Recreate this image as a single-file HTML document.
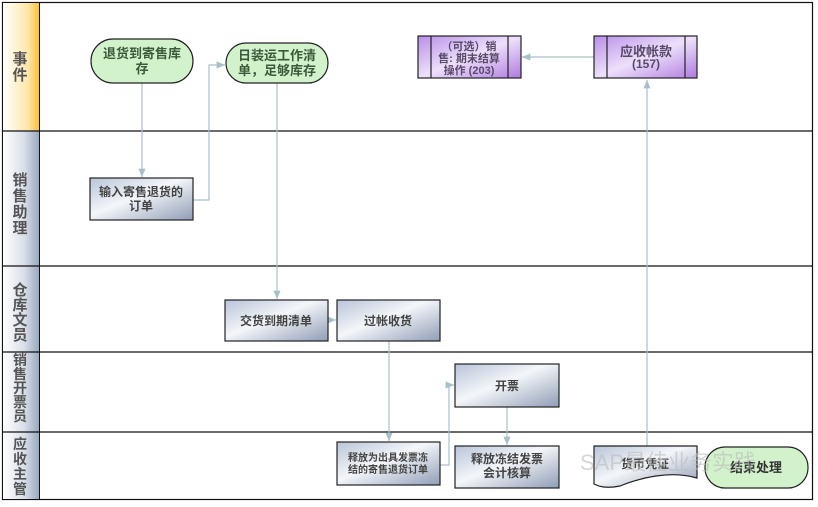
<!DOCTYPE html>
<html><head><meta charset="utf-8"><style>
body{margin:0;width:818px;height:502px;background:#fff;overflow:hidden;font-family:"Liberation Sans","Noto Sans CJK SC",sans-serif}
svg text{font-family:"Liberation Sans","Noto Sans CJK SC",sans-serif}
</style></head><body>
<svg width="818" height="502" viewBox="0 0 818 502">
<defs>
<linearGradient id="ev" x1="0" y1="0" x2="1" y2="0"><stop offset="0" stop-color="#fff"/><stop offset="0.7" stop-color="#fde6a8"/><stop offset="1" stop-color="#f8c23a"/></linearGradient>
<linearGradient id="ln" x1="0" y1="0" x2="1" y2="0"><stop offset="0" stop-color="#fff"/><stop offset="0.6" stop-color="#d8dee8"/><stop offset="1" stop-color="#9aa8c0"/></linearGradient>
<linearGradient id="bx" x1="0" y1="0" x2="1" y2="1"><stop offset="0" stop-color="#b8c4d8"/><stop offset="0.45" stop-color="#f4f6f9"/><stop offset="1" stop-color="#8f9db6"/></linearGradient>
<linearGradient id="pu" x1="0" y1="0" x2="1" y2="1"><stop offset="0" stop-color="#b88ee8"/><stop offset="0.5" stop-color="#ece0fa"/><stop offset="1" stop-color="#b07ae0"/></linearGradient>
<marker id="a" markerWidth="8" markerHeight="8" refX="7" refY="4" orient="auto"><path d="M0,1 L7,4 L0,7z" fill="#a8c0c8"/></marker>
</defs>
<rect x="2.5" y="2.5" width="810" height="497" fill="none" stroke="#111" stroke-width="1.2"/>
<rect x="3" y="3" width="36" height="128" fill="url(#ev)"/>
<rect x="3" y="131" width="36" height="135" fill="url(#ln)"/>
<rect x="3" y="266" width="36" height="86" fill="url(#ln)"/>
<rect x="3" y="352" width="36" height="80" fill="url(#ln)"/>
<rect x="3" y="432" width="36" height="67" fill="url(#ln)"/>
<line x1="39.5" y1="2" x2="39.5" y2="500" stroke="#111"/>
<g stroke="#111" stroke-width="1.2">
<line x1="2" y1="131" x2="813" y2="131"/><line x1="2" y1="266" x2="813" y2="266"/>
<line x1="2" y1="352" x2="813" y2="352"/><line x1="2" y1="432" x2="813" y2="432"/>
</g>
<g fill="#555" font-size="15" text-anchor="middle" font-weight="bold">
<text x="20" y="64">事</text><text x="20" y="80">件</text>
<text x="20" y="185">销</text><text x="20" y="201">售</text><text x="20" y="217">助</text><text x="20" y="233">理</text>
<text x="20" y="295">仓</text><text x="20" y="310">库</text><text x="20" y="325">文</text><text x="20" y="340">员</text>
<text x="20" y="365" font-size="14">销</text><text x="20" y="379" font-size="14">售</text><text x="20" y="393" font-size="14">开</text><text x="20" y="407" font-size="14">票</text><text x="20" y="421" font-size="14">员</text>
<text x="20" y="449" font-size="14">应</text><text x="20" y="464" font-size="14">收</text><text x="20" y="479" font-size="14">主</text><text x="20" y="494" font-size="14">管</text>
</g>
<g fill="none" stroke="#a8c0c8" stroke-width="1.2">
<path d="M142,83 V177" marker-end="url(#a)"/>
<path d="M193,200 H209 V65 H225" marker-end="url(#a)"/>
<path d="M277,83 V299" marker-end="url(#a)"/>
<path d="M328,320 H336" marker-end="url(#a)"/>
<path d="M389,341 V441" marker-end="url(#a)"/>
<path d="M440,465 H449 V385 H454" marker-end="url(#a)"/>
<path d="M507,407 V445" marker-end="url(#a)"/>
<path d="M647,446 V80" marker-end="url(#a)"/>
<path d="M594,57 H522" marker-end="url(#a)"/>
</g>
<g stroke="#222" stroke-width="1.2">
<rect x="91" y="39" width="102" height="44" rx="22" fill="#d2f2cc"/>
<rect x="226" y="43" width="102" height="40" rx="20" fill="#d2f2cc"/>
<rect x="705" y="447" width="103" height="41" rx="20" fill="#d2f2cc"/>
<rect x="90" y="178" width="103" height="42" fill="url(#bx)"/>
<rect x="225" y="300" width="103" height="41" fill="url(#bx)"/>
<rect x="337" y="300" width="103" height="41" fill="url(#bx)"/>
<rect x="455" y="364" width="104" height="43" fill="url(#bx)"/>
<rect x="337" y="442" width="103" height="43" fill="url(#bx)"/>
<rect x="455" y="446" width="104" height="42" fill="url(#bx)"/>
<path d="M594,446 H697 V478 C670,470 640,478 620,486 C605,489 598,486 594,484 Z" fill="url(#bx)"/>
<rect x="418" y="36" width="103" height="42" fill="url(#pu)"/>
<line x1="431" y1="36" x2="431" y2="78"/><line x1="508" y1="36" x2="508" y2="78"/>
<rect x="594" y="36" width="103" height="42" fill="url(#pu)"/>
<line x1="607" y1="36" x2="607" y2="78"/><line x1="685" y1="36" x2="685" y2="78"/>
</g>
<g fill="#3a5a3a" font-size="13" text-anchor="middle" font-weight="bold">
<text x="142" y="58">退货到寄售库</text><text x="142" y="73">存</text>
<text x="277" y="60">日装运工作清</text><text x="277" y="75">单，足够库存</text>
<text x="756" y="472" fill="#333">结束处理</text>
</g>
<g fill="#444" font-size="12" text-anchor="middle" font-weight="bold">
<text x="141" y="196">输入寄售退货的</text><text x="141" y="210">订单</text>
<text x="276" y="325">交货到期清单</text>
<text x="388" y="325">过帐收货</text>
<text x="507" y="390">开票</text>
<text x="388" y="461" font-size="10">释放为出具发票冻</text><text x="388" y="473" font-size="10">结的寄售退货订单</text>
<text x="507" y="463">释放冻结发票</text><text x="507" y="477">会计核算</text>
<text x="645" y="468">货币凭证</text>
<text x="469" y="50" font-size="11" fill="#5a4a6a">（可选）销</text>
<text x="469" y="62" font-size="11" fill="#5a4a6a">售: 期末结算</text>
<text x="469" y="74" font-size="11" fill="#5a4a6a">操作 (203)</text>
<text x="646" y="56" font-size="13" fill="#5a4a6a">应收帐款</text>
<text x="646" y="68" font-size="12" fill="#5a4a6a">(157)</text>
</g>
<text x="580" y="470" font-size="22" fill="#bbb" fill-opacity="0.6">SAP最佳业务实践</text>
</svg>
</body></html>
